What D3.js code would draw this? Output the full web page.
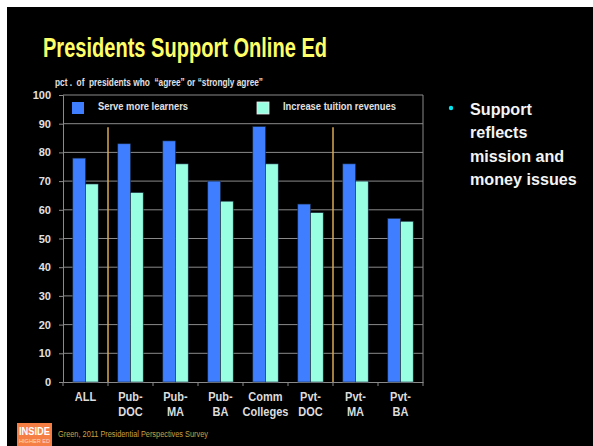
<!DOCTYPE html>
<html lang="en">
<head>
<meta charset="UTF-8">
<title>Presidents Support Online Ed</title>
<script src="https://d3js.org/d3.v7.min.js"></script>
<style>
  body { margin: 0; background: #fff; }
  svg { display: block; }
</style>
</head>
<body>
<div id="chart"></div>
<script>
// data
var categories = ["ALL", "Pub-DOC", "Pub-MA", "Pub-BA", "Comm Colleges", "Pvt-DOC", "Pvt-MA", "Pvt-BA"];
var categoryLines = [["ALL"], ["Pub-", "DOC"], ["Pub-", "MA"], ["Pub-", "BA"], ["Comm", "Colleges"], ["Pvt-", "DOC"], ["Pvt-", "MA"], ["Pvt-", "BA"]];
var seriesNames = ["Serve more learners", "Increase tuition revenues"];
var serveMore = [78, 83, 84, 70, 89, 62, 76, 57];
var increaseTuition = [69, 66, 76, 63, 76, 59, 70, 56];
var yTicks = [0, 10, 20, 30, 40, 50, 60, 70, 80, 90, 100];
var separatorsBefore = ["Pub-DOC", "Pvt-MA"];

var W = 593, H = 446;
var sans = "'Liberation Sans', Arial, sans-serif";
var colors = ["#3f7fff", "#99ffe3"];

var svg = d3.select("#chart").append("svg")
    .attr("width", W)
    .attr("height", H);

// squeezes a text to a given width, the slide used a narrow face
function squeeze(sel, len) {
    sel.attr("textLength", len).attr("lengthAdjust", "spacingAndGlyphs");
}

// black slide background
svg.append("rect")
    .attr("x", 7).attr("y", 7)
    .attr("width", W - 7).attr("height", H - 7)
    .attr("fill", "#000");

// title
svg.append("text")
    .attr("x", 43).attr("y", 57)
    .attr("fill", "#ffff66")
    .style("font-family", sans)
    .style("font-weight", "bold")
    .style("font-size", "28px")
    .text("Presidents Support Online Ed")
    .call(squeeze, 284);

svg.append("text")
    .attr("x", 55).attr("y", 86)
    .attr("fill", "#e0e0e0")
    .style("font-family", sans)
    .style("font-weight", "bold")
    .style("font-size", "10px")
    .attr("xml:space", "preserve")
    .text("pct .  of  presidents who  \u201Cagree\u201D or \u201Cstrongly agree\u201D")
    .call(squeeze, 208);

// scales
var x = d3.scaleBand()
    .domain(categories)
    .range([63, 423]);

var x1 = d3.scaleBand()
    .domain(seriesNames)
    .range([0, x.bandwidth()])
    .paddingOuter(0.77);

var y = d3.scaleLinear()
    .domain([0, 100])
    .range([382, 95]);

// gridlines
svg.append("g").selectAll("line")
    .data(yTicks.filter(function (d) { return d > 0; }))
    .enter().append("line")
    .attr("x1", 63).attr("x2", 423)
    .attr("y1", function (d) { return y(d); })
    .attr("y2", function (d) { return y(d); })
    .attr("stroke", "#8a8a8a")
    .attr("stroke-width", 1);

// right border
svg.append("line")
    .attr("x1", 423).attr("x2", 423)
    .attr("y1", y(100)).attr("y2", y(0))
    .attr("stroke", "#8a8a8a");

// y axis
var yAxis = svg.append("g")
    .attr("transform", "translate(63,0)")
    .call(d3.axisLeft(y).tickValues(yTicks).tickSize(4).tickPadding(8));
yAxis.select(".domain").attr("stroke", "#8a8a8a");
yAxis.selectAll(".tick line").attr("stroke", "#8a8a8a");
yAxis.selectAll(".tick text")
    .attr("fill", "#e0e0e0")
    .style("font-family", sans)
    .style("font-weight", "bold")
    .style("font-size", "11px");

// x axis
var xAxis = svg.append("g")
    .attr("transform", "translate(0," + y(0) + ")")
    .call(d3.axisBottom(x).tickSize(0).tickFormat(""));
xAxis.select(".domain").attr("stroke", "#8a8a8a");
svg.append("g").selectAll("line")
    .data(categories.concat(["end"]))
    .enter().append("line")
    .attr("x1", function (d, i) { return 63 + i * x.step(); })
    .attr("x2", function (d, i) { return 63 + i * x.step(); })
    .attr("y1", y(0)).attr("y2", y(0) + 4)
    .attr("stroke", "#8a8a8a");

// category labels
var labels = svg.append("g").selectAll("g")
    .data(categories)
    .enter().append("g")
    .attr("transform", function (d) { return "translate(" + (x(d) + x.bandwidth() / 2) + ",0) scale(0.92,1)"; })
    .append("text")
    .attr("text-anchor", "middle")
    .attr("fill", "#dcdcdc")
    .style("font-family", sans)
    .style("font-weight", "bold")
    .style("font-size", "12px");
labels.each(function (d, i) {
    var t = d3.select(this);
    categoryLines[i].forEach(function (line, k) {
        t.append("tspan")
            .attr("x", 0)
            .attr("y", 401 + k * 15.5)
            .text(line);
    });
});

// separators
svg.append("g").selectAll("line")
    .data(separatorsBefore)
    .enter().append("line")
    .attr("x1", function (d) { return x(d); })
    .attr("x2", function (d) { return x(d); })
    .attr("y1", y(88.8)).attr("y2", y(0))
    .attr("stroke", "#d9a955")
    .attr("stroke-width", 1.5);

// bars
var rows = categories.map(function (c, i) {
    return { cat: c, values: [serveMore[i], increaseTuition[i]] };
});
var groups = svg.append("g").selectAll("g")
    .data(rows)
    .enter().append("g")
    .attr("transform", function (d) { return "translate(" + x(d.cat) + ",0)"; });
groups.selectAll("rect")
    .data(function (d) { return d.values.map(function (v, k) { return { s: seriesNames[k], v: v, k: k }; }); })
    .enter().append("rect")
    .attr("x", function (d) { return x1(d.s); })
    .attr("width", x1.bandwidth())
    .attr("y", function (d) { return y(d.v); })
    .attr("height", function (d) { return y(0) - y(d.v); })
    .attr("fill", function (d) { return colors[d.k]; })
    .attr("stroke", "#1a2a40")
    .attr("stroke-width", 0.6);

// legend
var legendX = [72, 257], legendTextX = [98, 283], legendLen = [90, 113];
seriesNames.forEach(function (s, k) {
    svg.append("rect")
        .attr("x", legendX[k]).attr("y", 102)
        .attr("width", 12).attr("height", 12)
        .attr("fill", colors[k])
        .attr("stroke", k === 1 ? "#e8e8e8" : "none")
        .attr("stroke-width", 0.8);
    svg.append("text")
        .attr("x", legendTextX[k]).attr("y", 110)
        .attr("fill", "#e0e0e0")
        .style("font-family", sans)
        .style("font-weight", "bold")
        .style("font-size", "10px")
        .text(s)
        .call(squeeze, legendLen[k]);
});

// side note
svg.append("circle")
    .attr("cx", 451).attr("cy", 108)
    .attr("r", 2.2)
    .attr("fill", "#00e5f0");
var note = ["Support", "reflects", "mission and", "money issues"];
svg.append("g")
    .attr("transform", "translate(470,0) scale(0.95,1)")
    .selectAll("text")
    .data(note)
    .enter().append("text")
    .attr("x", 0)
    .attr("y", function (d, i) { return 115 + i * 23.3; })
    .attr("fill", "#f4f4f4")
    .style("font-family", sans)
    .style("font-weight", "bold")
    .style("font-size", "17px")
    .text(function (d) { return d; });

// footer logo + source
svg.append("rect")
    .attr("x", 17).attr("y", 423)
    .attr("width", 35).attr("height", 23)
    .attr("fill", "#f57e45");
svg.append("text")
    .attr("x", 19).attr("y", 435)
    .attr("fill", "#fff")
    .style("font-family", sans)
    .style("font-weight", "bold")
    .style("font-size", "11px")
    .text("INSIDE")
    .call(squeeze, 31);
svg.append("text")
    .attr("x", 19).attr("y", 443)
    .attr("fill", "#ffd9c4")
    .style("font-family", sans)
    .style("font-size", "6px")
    .text("HIGHER ED")
    .call(squeeze, 31);
svg.append("text")
    .attr("x", 58).attr("y", 437)
    .attr("fill", "#c9a043")
    .style("font-family", sans)
    .style("font-size", "8.5px")
    .text("Green, 2011 Presidential Perspectives Survey")
    .call(squeeze, 150);
</script>
</body>
</html>
